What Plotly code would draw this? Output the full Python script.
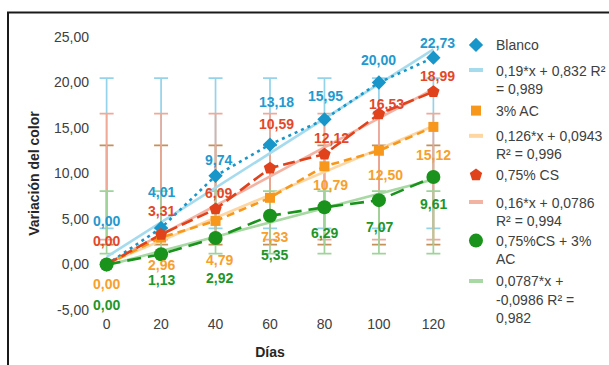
import numpy as np
import plotly.graph_objects as go

# Days of storage
dias = [0, 20, 40, 60, 80, 100, 120]

# Colour variation per treatment
blanco = [0.00, 4.01, 9.74, 13.18, 15.95, 20.00, 22.73]
ac_3 = [0.00, 2.96, 4.79, 7.33, 10.79, 12.50, 15.12]
cs_075 = [0.00, 3.31, 6.09, 10.59, 12.12, 16.53, 18.99]
cs_ac = [0.00, 1.13, 2.92, 5.35, 6.29, 7.07, 9.61]

# Linear trend fits: slope, intercept
fit_blanco = (0.19, 0.832)
fit_ac = (0.126, 0.0943)
fit_cs = (0.16, 0.0786)
fit_cs_ac = (0.0787, -0.0986)

series_names = ["Blanco", "3% AC", "0,75% CS", "0,75%CS + 3%<br>AC"]
trend_names = [
    "0,19*x + 0,832 R²<br>= 0,989",
    "0,126*x + 0,0943<br>R² = 0,996",
    "0,16*x + 0,0786<br>R² = 0,994",
    "0,0787*x +<br>-0,0986 R² =<br>0,982",
]

y_ticks = [-5, 0, 5, 10, 15, 20, 25]
y_ticktext = ["-5,00", "0,00", "5,00", "10,00", "15,00", "20,00", "25,00"]
x_ticks = [0, 20, 40, 60, 80, 100, 120]
x_ticktext = ["0", "20", "40", "60", "80", "100", "120"]

FONT = "Liberation Sans, Arial, sans-serif"

styles = [
    dict(vals=blanco, fit=fit_blanco, color="#1896c9", light="#a6dbee", err="#95d3ea",
         symbol="diamond", size=11, dash="3px,4px", label="#2399cf"),
    dict(vals=ac_3, fit=fit_ac, color="#f7981c", light="#fdd6a2", err="#c4915a",
         symbol="square", size=10, dash="8px,5px", label="#f7a02c"),
    dict(vals=cs_075, fit=fit_cs, color="#e0421c", light="#f3b3a3", err="#f0a897",
         symbol="pentagon", size=13, dash="12px,5px", label="#e3472a"),
    dict(vals=cs_ac, fit=fit_cs_ac, color="#19931b", light="#a8d8a3", err="#9fd39a",
         symbol="circle", size=14, dash="14px,7px", label="#22952a"),
]

# Pixel offsets of the value labels relative to their points (dx, dy; dy down)
label_offsets = [
    [(0, -44), (0, -36), (3, -16), (6, -43), (1, -23), (0, -23), (4, -15)],
    [(0, 19), (0, 27), (4, 39), (4, 39), (6, 19), (7, 24), (0, 28)],
    [(0, -24), (0, -23), (3, -16), (6, -44), (7, -16), (8, -10), (4, -16)],
    [(0, 40), (0, 26), (4, 40), (4, 39), (0, 26), (1, 27), (0, 27)],
]

# One legend box per treatment: (legend id, top in paper coords, gap between its two items)
legend_boxes = [("legend", 1.0282, 4), ("legend2", 0.7875, 4),
                ("legend3", 0.5520, 6), ("legend4", 0.3114, 1)]

fig = go.Figure()

# Spread bars: series mean ± sample standard deviation at every day
for st in styles:
    v = np.asarray(st["vals"])
    fig.add_trace(go.Scatter(
        x=dias, y=np.full(len(dias), v.mean()), mode="markers",
        marker=dict(size=1, color="rgba(0,0,0,0)"),
        error_y=dict(type="data", array=np.full(len(dias), v.std(ddof=1)),
                     color=st["err"], thickness=1.7, width=7),
        showlegend=False, hoverinfo="skip",
    ))

# Linear trend lines
xd = np.asarray([dias[0], dias[-1]], dtype=float)
for st in styles:
    a, b = st["fit"]
    fig.add_trace(go.Scatter(
        x=xd, y=a * xd + b, mode="lines",
        line=dict(color=st["light"], width=2.6),
        showlegend=False, hoverinfo="skip",
    ))

# Connecting lines of each treatment
for st in styles:
    fig.add_trace(go.Scatter(
        x=dias, y=st["vals"], mode="lines",
        line=dict(color=st["color"], width=2.6, dash=st["dash"]),
        showlegend=False, hoverinfo="skip",
    ))

# Markers (legend entries) and trend legend entries
for i, st in enumerate(styles):
    lg = legend_boxes[i][0]
    fig.add_trace(go.Scatter(
        x=dias, y=st["vals"], mode="markers", name=series_names[i],
        marker=dict(symbol=st["symbol"], size=st["size"], color=st["color"]),
        legend=lg, legendgroup=f"s{i}", legendrank=1,
    ))
    fig.add_trace(go.Scatter(
        x=[None], y=[None], mode="markers", name=trend_names[i],
        marker=dict(symbol="line-ew-open", size=10, color=st["light"],
                    line=dict(color=st["light"], width=4)),
        legend=lg, legendgroup=f"t{i}", legendrank=2,
    ))

# Value labels
for st, offs in zip(styles, label_offsets):
    for d, v, (dx, dy) in zip(dias, st["vals"], offs):
        fig.add_annotation(
            x=d, y=v, text=f"{v:.2f}".replace(".", ","), showarrow=False,
            xshift=dx, yshift=-dy,
            font=dict(family=FONT, size=14, color=st["label"], weight="bold"),
        )

# Chart frame
fig.add_shape(type="rect", xref="paper", yref="paper",
              x0=-0.2401, x1=1.6, y0=-0.4, y1=1.0897,
              line=dict(color="#1a1a1a", width=2), layer="below")

legend_style = dict(
    x=1.0254, xanchor="left", yanchor="top",
    font=dict(family=FONT, size=14, color="#404040"),
    valign="top", traceorder="grouped", bgcolor="rgba(0,0,0,0)",
)

fig.update_layout(
    width=609, height=365,
    margin=dict(l=93, r=162, t=37, b=55, autoexpand=False),
    paper_bgcolor="white", plot_bgcolor="white",
    font=dict(family=FONT, size=14, color="#404040"),
    showlegend=True,
    xaxis=dict(
        range=[-5, 125], tickvals=x_ticks, ticktext=x_ticktext,
        showgrid=False, zeroline=False, showline=False, ticks="",
        ticklabelstandoff=4, automargin=False,
        title=dict(text="<b>Días</b>", standoff=16,
                   font=dict(family=FONT, size=14, color="#262626")),
    ),
    yaxis=dict(
        range=[-5, 25], tickvals=y_ticks, ticktext=y_ticktext,
        showgrid=False, zeroline=False, showline=False, ticks="",
        ticklabelstandoff=3, automargin=False,
        title=dict(text="<b>Variación del color</b>", standoff=11,
                   font=dict(family=FONT, size=14, color="#262626")),
    ),
)
for lg, top, gap in legend_boxes:
    fig.update_layout({lg: dict(legend_style, y=top, tracegroupgap=gap)})

fig.write_html("out.html")
